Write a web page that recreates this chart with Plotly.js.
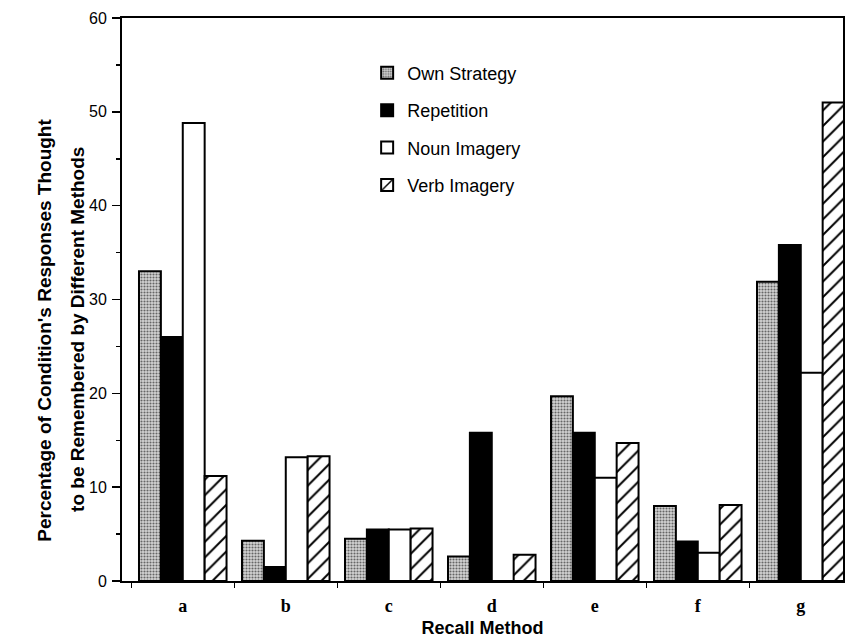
<!DOCTYPE html>
<html>
<head>
<meta charset="utf-8">
<script src="https://cdn.plot.ly/plotly-3.0.1.min.js"></script>
<style>html,body{margin:0;padding:0;background:#fff;}#chart{width:851px;height:642px;}</style>
</head>
<body>
<div id="chart"></div>
<script>
const categories = ["a", "b", "c", "d", "e", "f", "g"];
const ownStrategy = [33, 4.3, 4.5, 2.6, 19.7, 8, 31.9];
const repetition = [26, 1.5, 5.5, 15.8, 15.8, 4.2, 35.8];
const nounImagery = [48.8, 13.2, 5.5, 0, 11, 3, 22.2];
const verbImagery = [11.2, 13.3, 5.6, 2.8, 14.7, 8.1, 51];
const yTicks = [0, 10, 20, 30, 40, 50, 60];
const yTitleLines = ["Percentage of Condition's Responses Thought", "to be Remembered by Different Methods"];

const outline = {color: "#000", width: 2};
const traces = [
  {name: "Own Strategy", y: ownStrategy, legendgroup: "1",
   marker: {color: "#c4c4c4", line: outline, pattern: {shape: ".", fgcolor: "#666", bgcolor: "#d4d4d4", size: 3, solidity: 0.4}}},
  {name: "Repetition", y: repetition, legendgroup: "2",
   marker: {color: "#000", line: outline}},
  {name: "Noun Imagery", y: nounImagery, legendgroup: "3",
   marker: {color: "#fff", line: outline}},
  {name: "Verb Imagery", y: verbImagery, legendgroup: "4",
   marker: {color: "#fff", line: outline, pattern: {shape: "/", fgcolor: "#000", bgcolor: "#fff", size: 11, solidity: 0.18}}}
].map(t => Object.assign({type: "bar", x: categories, hoverinfo: "skip"}, t));

const titleFont = {size: 19, family: "Liberation Sans, Arial, sans-serif", weight: "bold", color: "#000"};
const layout = {
  width: 851, height: 642,
  margin: {l: 122, r: 8, t: 18, b: 61},
  paper_bgcolor: "#fff", plot_bgcolor: "#fff",
  barmode: "group", bargap: 0.15, bargroupgap: 0,
  font: {family: "Liberation Sans, Arial, sans-serif", color: "#000"},
  showlegend: true,
  legend: {x: 0.34, y: 0.935, xanchor: "left", yanchor: "top",
           font: {size: 18, family: "Liberation Sans, Arial, sans-serif"},
           traceorder: "grouped", tracegroupgap: 11, bgcolor: "rgba(0,0,0,0)"},
  xaxis: {
    type: "category", range: [-0.59, 6.41],
    showline: true, linecolor: "#000", linewidth: 2, mirror: true,
    ticks: "outside", tickson: "boundaries", ticklen: 5, tickwidth: 1.5, tickcolor: "#000",
    tickfont: {family: "Liberation Serif, Times New Roman, serif", size: 18, weight: "bold"},
    ticklabelstandoff: 7,
    showgrid: false, zeroline: false,
    title: {text: "Recall Method", font: {size: 18, weight: "bold"}, standoff: 7}
  },
  yaxis: {
    range: [0, 60], tickvals: yTicks,
    showline: true, linecolor: "#000", linewidth: 2, mirror: true,
    ticks: "outside", ticklen: 8, tickwidth: 1.5, tickcolor: "#000",
    minor: {dtick: 5, ticks: "outside", ticklen: 4, tickwidth: 1.5, tickcolor: "#000", showgrid: false},
    tickfont: {size: 16},
    ticklabelstandoff: 2,
    showgrid: false, zeroline: false
  },
  annotations: [
    {text: yTitleLines[0], xref: "paper", yref: "paper", x: -0.107, y: 0.446,
     xanchor: "center", yanchor: "middle", textangle: -90, showarrow: false, font: titleFont},
    {text: yTitleLines[1], xref: "paper", yref: "paper", x: -0.061, y: 0.446,
     xanchor: "center", yanchor: "middle", textangle: -90, showarrow: false, font: titleFont}
  ]
};

Plotly.newPlot("chart", traces, layout, {staticPlot: true, displayModeBar: false});
</script>
</body>
</html>
